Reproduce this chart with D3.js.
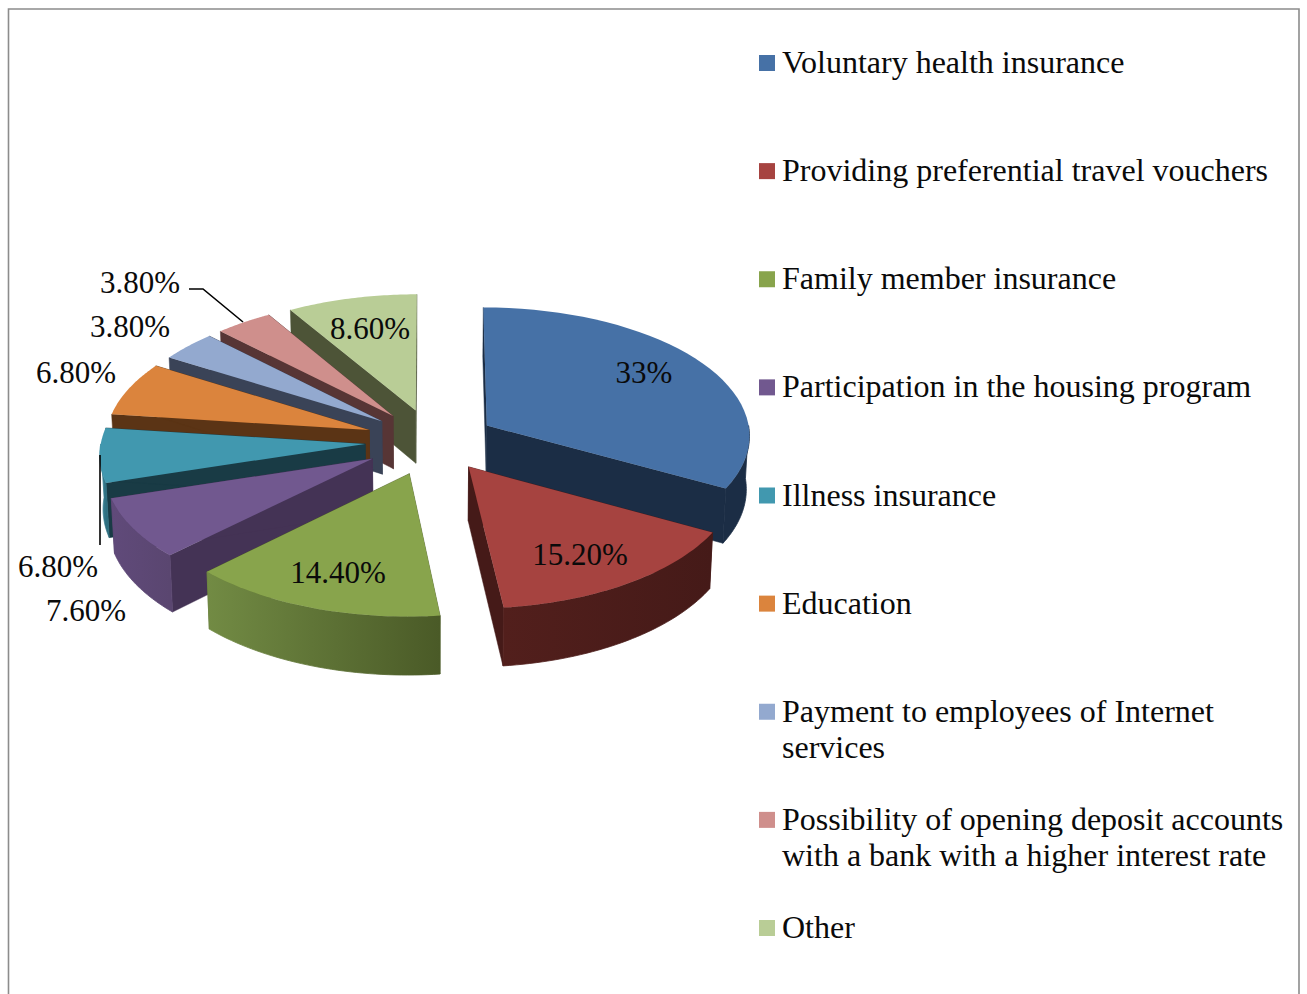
<!DOCTYPE html>
<html><head><meta charset="utf-8">
<script src="https://cdn.jsdelivr.net/npm/d3@7/dist/d3.min.js"></script>
<style>html,body{margin:0;padding:0;background:#fff;overflow:hidden}svg{display:block}text{font-family:"Liberation Serif","Times New Roman",serif;fill:#0a0a0a}</style>
</head><body><div id="chart"></div>
<script>
const categories = [
  ["Voluntary health insurance"],
  ["Providing preferential travel vouchers"],
  ["Family member insurance"],
  ["Participation in the housing program"],
  ["Illness insurance"],
  ["Education"],
  ["Payment to employees of Internet","services"],
  ["Possibility of opening deposit accounts","with a bank with a higher interest rate"],
  ["Other"]
];
const values = [33, 15.2, 14.4, 7.6, 6.8, 6.8, 3.8, 3.8, 8.6];
const valueLabels = ["33%","15.20%","14.40%","7.60%","6.80%","6.80%","3.80%","3.80%","8.60%"];
const topColors = ["#4671A6","#A64340","#88A44C","#71588F","#4198AF","#DB843D","#93A9CF","#CF8F8C","#B9CD96"];
const sideColors = ["#1B2D45","#451A18","#4A5A27","#443355","#193B45","#5B3415","#3A4357","#573535","#4D5437"];
const rimLeft = ["#1B2D45","#521F1C","#728B44","#604A7A","#3E8EA3","#A8652F","#6F81A0","#A06F6C","#8E9D73"];
const rimRight = ["#1B2D45","#451A18","#4A5A27","#5A4670","#2F6F80","#A8652F","#6F81A0","#A06F6C","#8E9D73"];
const labelAnchors = [[644,373],[580,555],[338,573],[86,611],[58,567],[76,373],[130,327],[140,283],[370,329]];
const explodeBy = [63,63,70,70,68,68,66,66,66];

const W = 1307, H = 994;
const cx = 433, cy = 441, R = 264, tilt = 0.486, depth = 53.5, persp = 3830, narrow = 0.01;

const svg = d3.select("#chart").append("svg").attr("width", W).attr("height", H);
svg.append("rect").attr("width", W).attr("height", H).attr("fill", "#fff");
svg.append("path").attr("d", `M8.5 ${H+5}V9H1299V${H+5}`).attr("fill","none").attr("stroke","#8c8c8c").attr("stroke-width",1.6);

const pie = d3.pie().sort(null).startAngle(0).endAngle(2*Math.PI);
const arcs = pie(values).map((d,i) => Object.assign(d,{i, mid:(d.startAngle+d.endAngle)/2}));

function project(X, Y, Z) {
  const f = persp / (persp - Y);
  const fx = f * (1 - narrow * Z);
  return [cx + X * fx, cy + (tilt * Y + depth * Z) * f];
}
function planar(d, r, a) {
  const e = explodeBy[d.i];
  return [e*Math.sin(d.mid) + r*Math.sin(a), -e*Math.cos(d.mid) - r*Math.cos(a)];
}
const pt = (d, r, a, z) => { const [X,Y] = planar(d,r,a); return project(X,Y,z); };
const line = d3.line();
const rimAngles = (a0,a1) => d3.range(0,41).map(k => a0 + (a1-a0)*k/40);

const defs = svg.append("defs");
const order = arcs.slice().sort((a,b) => Math.cos(b.mid) - Math.cos(a.mid));
const g = svg.append("g");

order.forEach(d => {
  const sg = g.append("g").attr("class","slice");
  const side = sideColors[d.i];
  [d.startAngle, d.endAngle].forEach(a => {
    sg.append("path").attr("fill", side).attr("stroke", side).attr("stroke-width",.5)
      .attr("d", line([pt(d,0,a,0), pt(d,R,a,0), pt(d,R,a,1), pt(d,0,a,1)]) + "Z");
  });
  const a0 = Math.max(d.startAngle, Math.PI/2), a1 = Math.min(d.endAngle, 3*Math.PI/2);
  if (a1 > a0) {
    const top = rimAngles(a0,a1).map(a => pt(d,R,a,0));
    const bot = rimAngles(a0,a1).map(a => pt(d,R,a,1)).reverse();
    const xs = top.map(p => p[0]);
    const id = "rim"+d.i;
    const gr = defs.append("linearGradient").attr("id",id).attr("gradientUnits","userSpaceOnUse")
      .attr("x1",d3.min(xs)).attr("x2",d3.max(xs)).attr("y1",0).attr("y2",0);
    gr.append("stop").attr("offset",0).attr("stop-color",rimLeft[d.i]);
    gr.append("stop").attr("offset",1).attr("stop-color",rimRight[d.i]);
    sg.append("path").attr("fill",`url(#${id})`).attr("stroke",`url(#${id})`).attr("stroke-width",.8)
      .attr("d", line(top.concat(bot)) + "Z");
  }
  const topPts = [pt(d,0,0,0)].concat(rimAngles(d.startAngle,d.endAngle).map(a => pt(d,R,a,0)));
  sg.append("path").attr("fill", topColors[d.i]).attr("d", line(topPts) + "Z");
});

// leader lines
const leader = d3.line();
svg.append("path").attr("d", leader([[189,289],[203,289],[243,322]])).attr("fill","none").attr("stroke","#000").attr("stroke-width",1.6);
svg.append("path").attr("d", leader([[100,455],[100,545]])).attr("fill","none").attr("stroke","#000").attr("stroke-width",1.6);

// value labels
svg.append("g").selectAll("text").data(valueLabels).join("text")
  .attr("x",(d,i)=>labelAnchors[i][0]).attr("y",(d,i)=>labelAnchors[i][1]+10)
  .attr("text-anchor","middle").attr("font-size",31).text(d=>d);

// legend
const legendY = d3.scaleLinear().domain([0,8]).range([63,928]);
const lg = svg.append("g").selectAll("g").data(categories).join("g")
  .attr("transform",(d,i)=>`translate(759,${legendY(i)})`);
lg.append("rect").attr("x",0).attr("y",-8).attr("width",16).attr("height",16).attr("fill",(d,i)=>topColors[i]);
lg.each(function(lines){
  d3.select(this).selectAll("text").data(lines).join("text")
    .attr("x",23).attr("y",(d,k)=>10+k*36).attr("font-size",32).text(d=>d);
});
</script></body></html>
